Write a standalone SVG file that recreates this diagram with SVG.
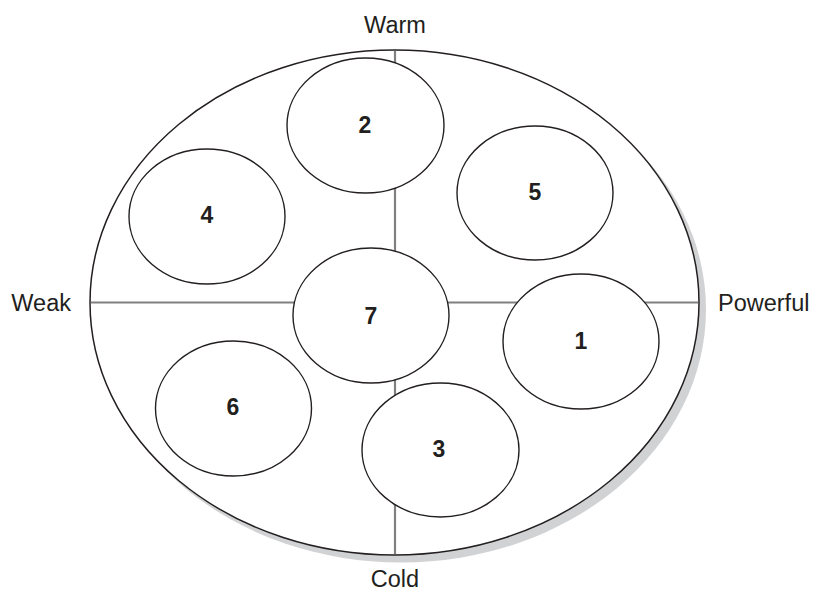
<svg xmlns="http://www.w3.org/2000/svg" width="813" height="591" viewBox="0 0 813 591">
<style>
.axis{stroke:#808080;stroke-width:2.2;fill:none}
.node{fill:#fff;stroke:#231f20;stroke-width:1.4}
.num{font-family:"Liberation Sans",Arial,sans-serif;font-weight:bold;font-size:23px;fill:#231f20;text-anchor:middle}
.lbl{font-family:"Liberation Sans",Arial,sans-serif;font-size:23.5px;fill:#231f20}
</style>
<rect width="813" height="591" fill="#fff"/>
<g id="frame">
<ellipse cx="401" cy="309.5" rx="305" ry="253" fill="#d1d2d4"/>
<ellipse cx="394.5" cy="302.5" rx="304.5" ry="252.5" fill="#fff" stroke="#231f20" stroke-width="1.5"/>
</g>
<g id="connectors">
<line class="axis" x1="395" y1="51" x2="395" y2="554"/>
<line class="axis" x1="91" y1="302.5" x2="698" y2="302.5"/>
</g>
<g id="axis-labels">
<text class="lbl" x="395" y="33" text-anchor="middle">Warm</text>
<text class="lbl" x="395" y="587" text-anchor="middle">Cold</text>
<text class="lbl" x="71" y="311" text-anchor="end">Weak</text>
<text class="lbl" x="718" y="311">Powerful</text>
</g>
<g id="node-2"><ellipse class="node" cx="365.5" cy="125.5" rx="78.5" ry="67.5"/><text class="num" x="365" y="133">2</text></g>
<g id="node-4"><ellipse class="node" cx="207" cy="216.5" rx="78" ry="67.5"/><text class="num" x="207" y="223">4</text></g>
<g id="node-5"><ellipse class="node" cx="535" cy="193" rx="78" ry="67"/><text class="num" x="535" y="200">5</text></g>
<g id="node-7"><ellipse class="node" cx="371" cy="315.5" rx="78" ry="67.5"/><text class="num" x="371" y="324">7</text></g>
<g id="node-1"><ellipse class="node" cx="581" cy="341.5" rx="78" ry="67.5"/><text class="num" x="581" y="349">1</text></g>
<g id="node-6"><ellipse class="node" cx="233.5" cy="408.5" rx="78" ry="67.5"/><text class="num" x="233" y="415">6</text></g>
<g id="node-3"><ellipse class="node" cx="440.5" cy="450" rx="78.5" ry="67"/><text class="num" x="439" y="457">3</text></g>
</svg>
